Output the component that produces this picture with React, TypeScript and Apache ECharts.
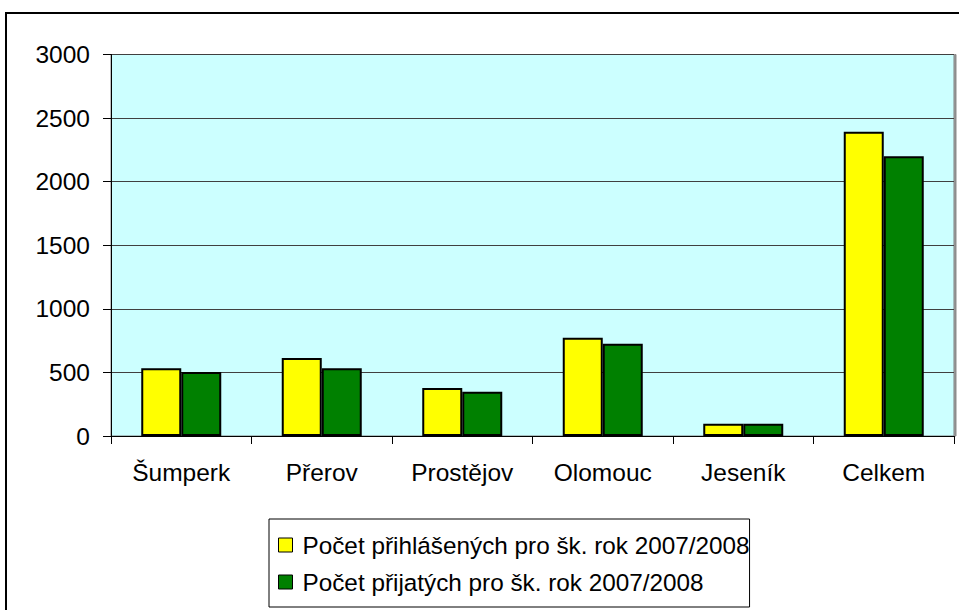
import React, { useEffect, useRef } from "react";
import * as echarts from "echarts";

const categories = ["Šumperk", "Přerov", "Prostějov", "Olomouc", "Jeseník", "Celkem"];
const prihlaseni = [532, 613, 377, 773, 97, 2392];
const prijati = [503, 532, 348, 726, 97, 2200];
const seriesNames = [
  "Počet přihlášených pro šk. rok 2007/2008",
  "Počet přijatých pro šk. rok 2007/2008",
];
const yTicks = [0, 500, 1000, 1500, 2000, 2500, 3000];

export default function App() {
  const ref = useRef<HTMLDivElement>(null);
  useEffect(() => {
    if (!ref.current) return;
    const chart = echarts.init(ref.current, null, { renderer: "svg" });
    const font = "'Liberation Sans', Arial, sans-serif";
    chart.setOption({
      animation: false,
      backgroundColor: "#ffffff",
      textStyle: { fontFamily: font },
      graphic: [
        {
          type: "rect",
          shape: { x: 6, y: 13, width: 1000, height: 700 },
          style: { fill: "none", stroke: "#000000", lineWidth: 2 },
          z: 0,
        },
      ],
      grid: {
        left: 111,
        right: 5,
        top: 54.5,
        bottom: 174,
        show: true,
        backgroundColor: "#CCFFFF",
        borderColor: "#808080",
        borderWidth: 1,
        shadowColor: "rgba(0,0,0,0.45)",
        shadowOffsetX: 2,
        shadowOffsetY: 0,
        shadowBlur: 0,
      },
      legend: {
        orient: "vertical",
        left: 269,
        top: 519,
        padding: [14, 0, 13, 9],
        itemGap: 13,
        itemWidth: 14,
        itemHeight: 14,
        icon: "rect",
        borderColor: "#000000",
        borderWidth: 1,
        backgroundColor: "#ffffff",
        itemStyle: { borderColor: "#000000", borderWidth: 1 },
        textStyle: { fontSize: 24.3, color: "#000000", fontFamily: font, padding: [0, 0, 0, 5] },
        data: seriesNames,
      },
      xAxis: {
        type: "category",
        data: categories,
        boundaryGap: true,
        axisLine: { show: true, lineStyle: { color: "#000000", width: 1 } },
        axisTick: { show: true, length: 8, inside: false, alignWithLabel: false, lineStyle: { color: "#000000" } },
        axisLabel: { fontSize: 24.5, color: "#000000", margin: 24, fontFamily: font },
        splitLine: { show: false },
      },
      yAxis: {
        type: "value",
        min: yTicks[0],
        max: yTicks[yTicks.length - 1],
        interval: yTicks[1] - yTicks[0],
        axisLine: { show: true, lineStyle: { color: "#000000", width: 1 } },
        axisTick: { show: true, length: 8, inside: false, lineStyle: { color: "#000000" } },
        axisLabel: {
          fontSize: 24.5,
          color: "#000000",
          margin: 21,
          fontFamily: font,
          formatter: (v: number) => String(v),
        },
        splitLine: { show: true, lineStyle: { color: "#404040", width: 1 } },
      },
      series: [
        {
          name: seriesNames[0],
          type: "bar",
          data: prihlaseni,
          barWidth: 40,
          barGap: "0%",
          itemStyle: { color: "#FFFF00", borderColor: "#000000", borderWidth: 2 },
        },
        {
          name: seriesNames[1],
          type: "bar",
          data: prijati,
          barWidth: 40,
          barGap: "0%",
          itemStyle: { color: "#008000", borderColor: "#000000", borderWidth: 2 },
        },
      ],
    });
    return () => chart.dispose();
  }, []);
  return (
    <div
      ref={ref}
      style={{ position: "fixed", left: 0, top: 0, width: 959, height: 610 }}
    />
  );
}
